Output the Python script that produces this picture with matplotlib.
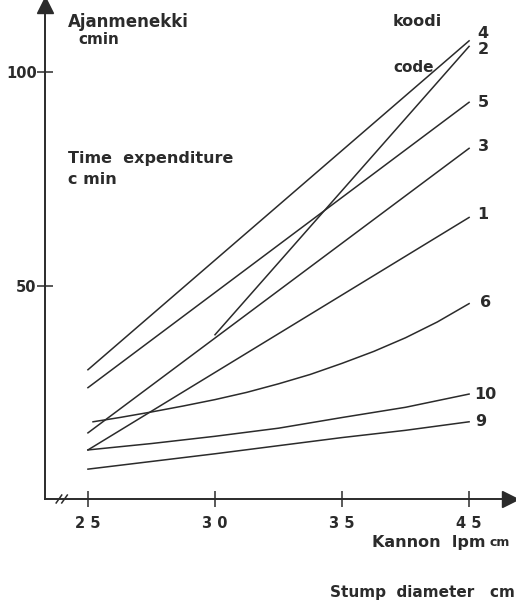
import numpy as np
import matplotlib.pyplot as plt

# stump diameter positions (axis units) and tick labels as printed
x_ticks = [25, 30, 35, 40]
x_ticklabels = ["2 5", "3 0", "3 5", "4 5"]

# straight lines: (x, y) endpoints, time in cmin
code4_x = [25, 40]; code4_y = [30.3, 107.4]
code2_x = [30, 40]; code2_y = [38.5, 106.1]
code5_x = [25, 40]; code5_y = [26.1, 93.0]
code3_x = [25, 40]; code3_y = [15.5, 82.2]
code1_x = [25, 40]; code1_y = [11.5, 66.0]
# curved lines read at several points
code6_x = [25.2, 26.25, 27.5, 28.75, 30, 31.25, 32.5, 33.75, 35, 36.25, 37.5, 38.75, 40]
code6_y = [18.1, 19.1, 20.4, 21.8, 23.3, 25.0, 27.0, 29.2, 31.8, 34.6, 37.8, 41.5, 45.8]
curve_x = [25, 27.5, 30, 32.5, 35, 37.5, 40]
code10_y = [11.5, 13.0, 14.7, 16.6, 19.1, 21.5, 24.6]
code9_y = [7.0, 8.8, 10.6, 12.5, 14.4, 16.1, 18.1]

series = [
    ("4", code4_x, code4_y, (6, 5.5)),
    ("2", code2_x, code2_y, (6, -2.5)),
    ("5", code5_x, code5_y, (6, 0)),
    ("3", code3_x, code3_y, (6, 1)),
    ("1", code1_x, code1_y, (6, 2)),
    ("6", code6_x, code6_y, (8, 1)),
    ("10", curve_x, code10_y, (4, 0)),
    ("9", curve_x, code9_y, (4, 0)),
]

FONT = "DejaVu Sans"
INK = "#2b2b2b"
plt.rcParams["font.family"] = FONT
plt.rcParams["font.weight"] = "bold"

fig = plt.figure(figsize=(5.16, 6.05), dpi=100)
W, H = 516, 605
ax = fig.add_axes([45 / W, (H - 499) / H, (510 - 45) / W, (499 - 5) / H])
ax.set_xlim(23.31, 41.61)
ax.set_ylim(0, 115.8)

for name, xs, ys, off in series:
    ax.plot(xs, ys, color=INK, lw=1.1)
    ax.annotate(name, (xs[-1], ys[-1]), xytext=off, textcoords="offset points",
                ha="left", va="center", fontsize=11.5, fontweight="bold", color=INK)

# axes styling
for s in ["top", "right"]:
    ax.spines[s].set_visible(False)
for s in ["left", "bottom"]:
    ax.spines[s].set_color(INK)
    ax.spines[s].set_linewidth(1.4)
ax.set_xticks(x_ticks, x_ticklabels)
ax.set_yticks([50, 100], ["50", "100"])
ax.tick_params(axis="both", direction="inout", length=12, width=1.1, color=INK,
               labelsize=10.5, labelcolor=INK)
ax.tick_params(axis="x", pad=6)
ax.tick_params(axis="y", pad=0)
for lab in ax.get_xticklabels() + ax.get_yticklabels():
    lab.set_fontweight("bold")

# arrow heads
ax.plot(0, 1, marker="^", ms=11, color=INK, transform=ax.transAxes, clip_on=False)
ax.plot(1, 0, marker=">", ms=11, color=INK, transform=ax.transAxes, clip_on=False)
# axis break
for dx in (0.030, 0.042):
    ax.plot([dx - 0.006, dx + 0.006], [-0.008, 0.008], color=INK, lw=1.1,
            transform=ax.transAxes, clip_on=False)

# texts
fig.text(68 / W, 1 - 22 / H, "Ajanmenekki", fontsize=12, color=INK, va="center")
fig.text(78 / W, 1 - 40 / H, "cmin", fontsize=11, color=INK, va="center")
fig.text(68 / W, 1 - 158 / H, "Time  expenditure", fontsize=11.5, color=INK, va="center")
fig.text(68 / W, 1 - 180 / H, "c min", fontsize=11.5, color=INK, va="center")
fig.text(393 / W, 1 - 22 / H, "koodi", fontsize=11.5, color=INK, va="center")
fig.text(393 / W, 1 - 68 / H, "code", fontsize=11, color=INK, va="center")
fig.text(372 / W, 1 - 542 / H, "Kannon  lpm", fontsize=11.5, color=INK, va="center")
fig.text(490 / W, 1 - 543 / H, "cm", fontsize=9, color=INK, va="center")
fig.text(330 / W, 1 - 593 / H, "Stump  diameter   cm", fontsize=11, color=INK, va="center")

fig.savefig("out.png", dpi=100)
